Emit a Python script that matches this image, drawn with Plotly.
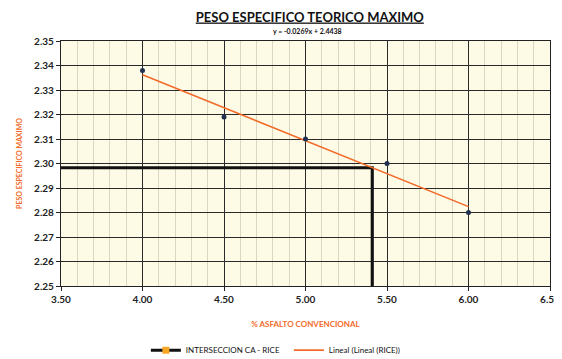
import plotly.graph_objects as go

# Data
asfalto = [4.0, 4.5, 5.0, 5.5, 6.0]
rice = [2.338, 2.319, 2.310, 2.300, 2.280]
slope = -0.0269
intercept = 2.4438
trend_x = [4.0, 6.0]
trend_y = [slope * v + intercept for v in trend_x]
inter_x = [3.5, 5.41, 5.41]
inter_y = [2.2983, 2.2983, 2.25]
equation = "y = -0.0269x + 2.4438"

fig = go.Figure()
fig.add_trace(go.Scatter(x=inter_x, y=inter_y, mode="lines+markers",
                         name="INTERSECCION CA - RICE",
                         line=dict(color="#111111", width=3),
                         marker=dict(symbol="square", color="#F5A623", size=7,
                                     line=dict(width=0)),
                         selectedpoints=[],
                         unselected=dict(marker=dict(opacity=0))))
fig.add_trace(go.Scatter(x=trend_x, y=trend_y, mode="lines",
                         name="Lineal (Lineal (RICE))",
                         line=dict(color="#F26B2A", width=1.6)))
fig.add_trace(go.Scatter(x=asfalto, y=rice, mode="markers", name="RICE",
                         showlegend=False,
                         marker=dict(color="#1F3050", size=5)))

font = "Lato, 'Open Sans', sans-serif"
fig.update_layout(
    width=562, height=359,
    margin=dict(l=53, r=20, t=33, b=81),
    paper_bgcolor="white",
    plot_bgcolor="#FDFBE6",
    font=dict(family=font, color="#222222"),
    title=dict(text="<b><u>PESO ESPECIFICO TEORICO MAXIMO</u></b>",
               x=0.537, xanchor="center", yref="container", y=0.975, yanchor="middle",
               font=dict(size=13, color="#111111")),
    annotations=[dict(text="<b>" + equation + "</b>", xref="paper", yref="paper",
                      x=0.505, y=1.041, xanchor="center", yanchor="middle",
                      showarrow=False, font=dict(size=7, color="#111111"))],
    showlegend=True,
    legend=dict(orientation="h", x=0.466, xanchor="center",
                yref="container", y=0.047, yanchor="middle",
                itemwidth=30, entrywidth=98,
                font=dict(size=8, color="#111111"), bgcolor="rgba(0,0,0,0)"),
)
fig.update_xaxes(range=[3.5, 6.5], dtick=0.5, tickformat=".2f", automargin=False,
                 showgrid=True, gridcolor="#2a2a2a", gridwidth=1,
                 minor=dict(dtick=0.1, showgrid=True, gridcolor="#DCD6BE", gridwidth=1),
                 showline=True, linecolor="#222222", linewidth=1.2, mirror=True,
                 ticks="outside", ticklen=4, tickcolor="#222222",
                 tickfont=dict(size=10, color="#222222", weight="bold"),
                 zeroline=False,
                 title=dict(text="<b>% ASFALTO CONVENCIONAL</b>",
                            font=dict(size=8, color="#F26B2A"), standoff=17))
fig.update_yaxes(range=[2.25, 2.35], dtick=0.01, tickformat=".2f", automargin=False,
                 showgrid=True, gridcolor="#2a2a2a", gridwidth=1,
                 showline=True, linecolor="#222222", linewidth=1.2, mirror=True,
                 ticks="outside", ticklen=4, tickcolor="#222222",
                 tickfont=dict(size=10, color="#222222", weight="bold"),
                 zeroline=False,
                 title=dict(text="<b>PESO ESPECIFICO MAXIMO</b>",
                            font=dict(size=7, color="#F26B2A"), standoff=10))

fig.write_html("out.html")
